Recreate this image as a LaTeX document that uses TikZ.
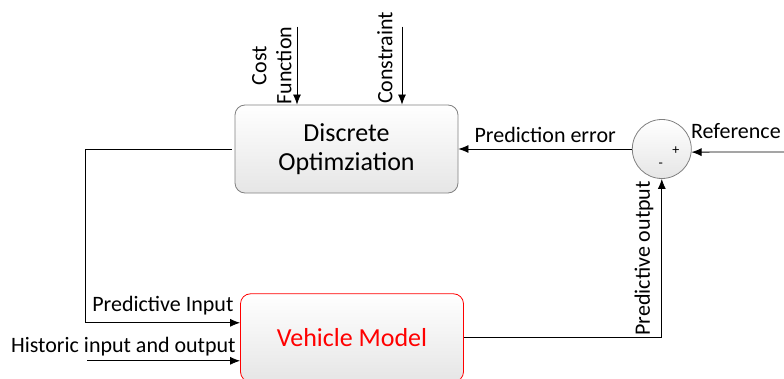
\documentclass[tikz,border=0pt]{standalone}
\usepackage{fontspec}
\setmainfont{Carlito}
\usetikzlibrary{arrows.meta,positioning}
\tikzset{
  block_/.style = {shape=rectangle, draw=gray, rounded corners=10pt, top color=white, bottom color=gray!20,
                   minimum width=223pt, minimum height=88pt, align=center, font=\fontsize{26}{29}\selectfont},
  sum_/.style   = {shape=circle, draw=gray, top color=white, bottom color=gray!20, minimum size=59pt, inner sep=0pt},
  sign_/.style  = {font=\fontsize{14}{14}\selectfont, inner sep=0pt}
}

\begin{document}
\begin{tikzpicture}
		[
		x                 = 1pt,
		y                 = 1pt,
		line width        = 0.8pt,
		>                 = {Latex[length=10pt,width=8pt]},
		every node/.style = {font=\fontsize{22}{25}\selectfont}
		]
		\useasboundingbox (0,0) rectangle (784,378);
		\node [block_] (opt) at (346.5,229) {Discrete\\Optimziation};
		\node [block_, draw=red, text=red, below=100pt of opt, xshift=5.5pt] (veh) {Vehicle Model};
		\node [sum_, right=173.5pt of opt] (sum) {};
		\node [sign_] at ([shift={(14,-2)}]sum.center) {+};
		\node [sign_] at ([shift={(-1,-16)}]sum.center) {-};
		\coordinate [above=78pt of opt.north, xshift=-49.5pt] (cost);
		\coordinate [above=78pt of opt.north, xshift=55.5pt] (con);
		\coordinate (ref) at (784,226);
		\coordinate [left=153pt of veh.west, yshift=-23pt] (hist);
		\draw [->] (cost) -- node [above, rotate=90, align=center, inner sep=5pt] {Cost\\Function} (cost |- opt.north);
		\draw [->] (con) -- node [above, rotate=90, pos=0.4, inner sep=9pt] {Constraint} (con |- opt.north);
		\draw [->] (ref) -- node [above, pos=0.52, inner sep=13pt] {Reference} (sum.-6);
		\draw [->] (sum.west) -- node [above, inner sep=6pt] {Prediction error} (opt.east);
		\draw [->] (veh.east) -| node [pos=0.75, above, rotate=90, inner sep=8pt] {Predictive output} (sum.south);
		\draw [->] (opt.west) ++(-3,0) -- ++(-146,0) |- node [pos=0.75, above, inner sep=7pt] {Predictive Input} ([yshift=15pt]veh.west);
		\draw [->] (hist) -- (hist -| veh.west) node [above left, inner sep=4pt] {Historic input and output};
\end{tikzpicture}
\end{document}
